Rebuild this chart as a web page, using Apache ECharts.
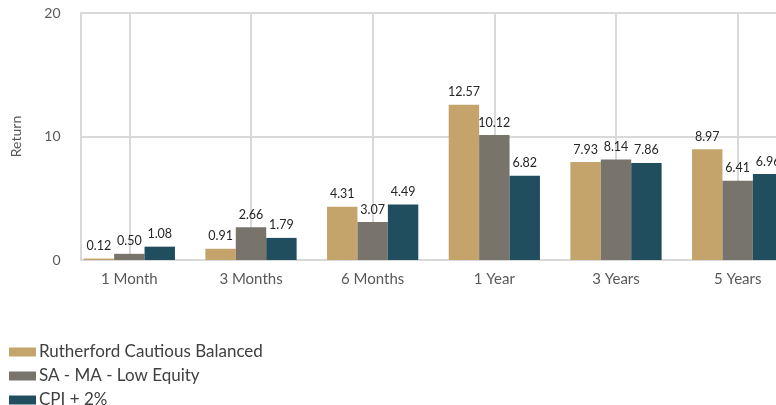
<!DOCTYPE html>
<html>
<head>
<meta charset="utf-8">
<script src="https://cdn.jsdelivr.net/npm/echarts@6/dist/echarts.min.js"></script>
<style>html,body{margin:0;padding:0;background:#fff;}#c{width:776px;height:405px;}</style>
</head>
<body>
<div id="c"></div>
<script>
const categories = ['1 Month', '3 Months', '6 Months', '1 Year', '3 Years', '5 Years'];
const rutherford = [0.12, 0.91, 4.31, 12.57, 7.93, 8.97];
const saMaLowEquity = [0.50, 2.66, 3.07, 10.12, 8.14, 6.41];
const cpiPlus2 = [1.08, 1.79, 4.49, 6.82, 7.86, 6.96];
const yTicks = { min: 0, max: 20, interval: 10 };
const seriesNames = ['Rutherford Cautious Balanced', 'SA - MA - Low Equity', 'CPI + 2%'];

const FONT = 'Lato';
const GRID_LINE = { color: '#d9d9d9', width: 2 };
const chart = echarts.init(document.getElementById('c'));
const label = {
  show: true, position: 'top', distance: 6,
  color: '#262626', fontFamily: FONT, fontSize: 12.5,
  formatter: p => p.value.toFixed(2)
};
function mk(name, data, color) {
  return { name, type: 'bar', data, barGap: '0%', barCategoryGap: '25%',
    itemStyle: { color }, label };
}
chart.setOption({
  animation: false,
  textStyle: { fontFamily: FONT },
  grid: [
    { left: 68.5, width: 730, top: 13, height: 247, containLabel: false, outerBoundsMode: 'none' },
    { left: 81, right: 0, top: 13, height: 247, containLabel: false, outerBoundsMode: 'none' }
  ],
  legend: {
    orient: 'vertical', left: 4, top: 338, height: 120, itemWidth: 27, itemHeight: 9, itemGap: 6,
    icon: 'rect',
    textStyle: { fontFamily: FONT, fontSize: 17, lineHeight: 18, color: '#404040', padding: [0, 0, 0, -2] },
    data: seriesNames
  },
  xAxis: [
    {
      type: 'category', data: categories, gridIndex: 0, z: 1,
      axisLine: { show: false },
      axisTick: { show: false },
      axisLabel: { color: '#595959', fontFamily: FONT, fontSize: 15, margin: 12 },
      splitLine: { show: true, alignWithLabel: true, lineStyle: GRID_LINE }
    },
    {
      type: 'value', gridIndex: 1, min: 0, max: 1,
      axisLine: { show: true, lineStyle: GRID_LINE },
      axisTick: { show: false },
      axisLabel: { show: false },
      splitLine: { show: false }
    }
  ],
  yAxis: [
    {
      type: 'value', gridIndex: 0, min: yTicks.min, max: yTicks.max, interval: yTicks.interval,
      offset: -13,
      name: 'Return', nameLocation: 'middle', nameGap: 58,
      nameTextStyle: { color: '#595959', fontFamily: FONT, fontSize: 14 },
      axisLine: { show: false },
      axisTick: { show: false },
      axisLabel: { color: '#595959', fontFamily: FONT, fontSize: 14, margin: 21 },
      splitLine: { show: false }
    },
    {
      type: 'value', gridIndex: 1, min: yTicks.min, max: yTicks.max, interval: yTicks.interval,
      axisLine: { show: true, lineStyle: GRID_LINE },
      axisTick: { show: false },
      axisLabel: { show: false },
      splitLine: { show: true, lineStyle: GRID_LINE }
    }
  ],
  series: [
    mk(seriesNames[0], rutherford, '#C4A46B'),
    mk(seriesNames[1], saMaLowEquity, '#78746C'),
    mk(seriesNames[2], cpiPlus2, '#214E5E')
  ]
});
</script>
</body>
</html>
